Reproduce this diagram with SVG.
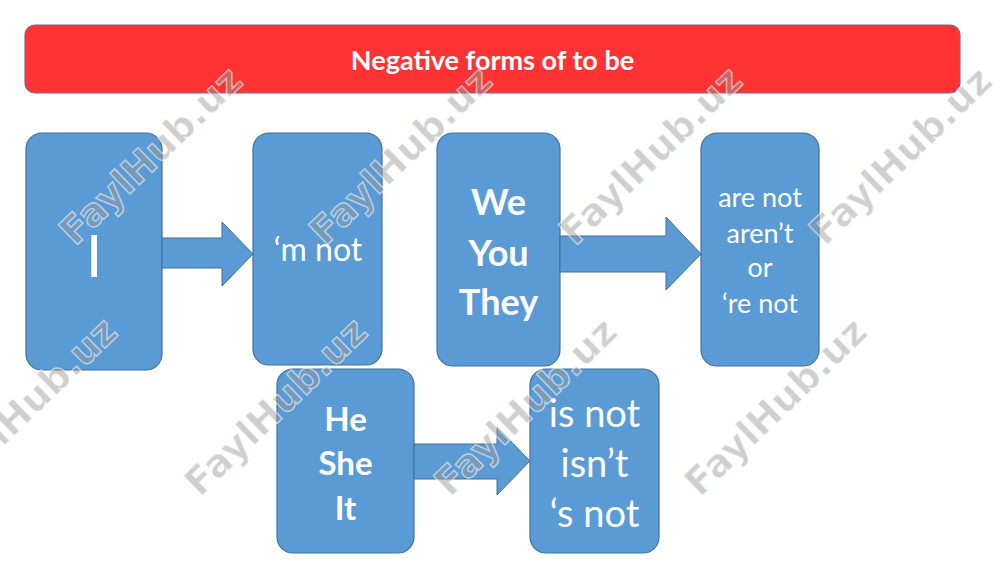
<svg xmlns="http://www.w3.org/2000/svg" width="1000" height="562" viewBox="0 0 1000 562">
<style>
.box{fill:#5B9BD5;stroke:#41719C;stroke-width:1.2}
.arr{fill:#5B9BD5;stroke:#41719C;stroke-width:1}
.t{font-family:Lato,"Liberation Sans",sans-serif;fill:#fff;text-anchor:middle}
.b{font-weight:bold}
.wm{font-family:"DejaVu Sans",sans-serif;font-weight:bold;font-size:38px;fill:#9a9a9a;fill-opacity:.48;stroke:#ffffff;stroke-opacity:.55;stroke-width:1.4;text-anchor:middle}
</style>
<rect width="1000" height="562" fill="#fff"/>
<g id="title">
<rect x="25" y="25" width="935" height="68" rx="10" fill="#FF3333" stroke="#7d6a88" stroke-width="1.2"/>
<text class="t b" x="492.5" y="70" font-size="27">Negative forms of to be</text>
</g>
<g id="node-i">
<rect class="box" x="26" y="133" width="136" height="237" rx="16"/>
<text class="t" x="94" y="277" font-size="58">I</text>
</g>
<g id="node-m-not">
<rect class="box" x="253" y="133" width="129" height="232" rx="16"/>
<text class="t" x="318" y="261" font-size="32">‘m not</text>
</g>
<g id="node-we-you-they">
<rect class="box" x="437" y="133" width="123" height="233" rx="16"/>
<text class="t b" x="498.5" font-size="36"><tspan x="498.5" y="215">We</tspan><tspan x="498.5" y="266">You</tspan><tspan x="498.5" y="315">They</tspan></text>
</g>
<g id="node-are-not">
<rect class="box" x="701" y="133" width="118" height="233" rx="16"/>
<text class="t" x="760" font-size="27"><tspan x="760" y="207">are not</tspan><tspan x="760" y="243">aren’t</tspan><tspan x="760" y="277">or</tspan><tspan x="760" y="313">‘re not</tspan></text>
</g>
<g id="node-he-she-it">
<rect class="box" x="277" y="369" width="137" height="184" rx="16"/>
<text class="t b" x="345.5" font-size="33"><tspan x="345.5" y="431">He</tspan><tspan x="345.5" y="475">She</tspan><tspan x="345.5" y="520">It</tspan></text>
</g>
<g id="node-is-not">
<rect class="box" x="530" y="369" width="129" height="184" rx="16"/>
<text class="t" x="594.5" font-size="38"><tspan x="594.5" y="427">is not</tspan><tspan x="594.5" y="477">isn’t</tspan><tspan x="594.5" y="527">‘s not</tspan></text>
</g>
<g id="connectors">
<polygon class="arr" points="162,238 222,238 222,222 253,254 222,286 222,268 162,268"/>
<polygon class="arr" points="560,236 666,236 666,217 701,254 666,290 666,272 560,272"/>
<polygon class="arr" points="414,444 497,444 497,427 530,461 497,495 497,479 414,479"/>
</g>
<g id="watermarks">
<text class="wm" transform="translate(150,155) rotate(-44)" y="14">FaylHub.uz</text>
<text class="wm" transform="translate(400,155) rotate(-44)" y="14">FaylHub.uz</text>
<text class="wm" transform="translate(650,155) rotate(-44)" y="14">FaylHub.uz</text>
<text class="wm" transform="translate(900,155) rotate(-44)" y="14">FaylHub.uz</text>
<text class="wm" transform="translate(25,406) rotate(-44)" y="14">FaylHub.uz</text>
<text class="wm" transform="translate(275,406) rotate(-44)" y="14">FaylHub.uz</text>
<text class="wm" transform="translate(525,406) rotate(-44)" y="14">FaylHub.uz</text>
<text class="wm" transform="translate(775,406) rotate(-44)" y="14">FaylHub.uz</text>
</g>
</svg>
